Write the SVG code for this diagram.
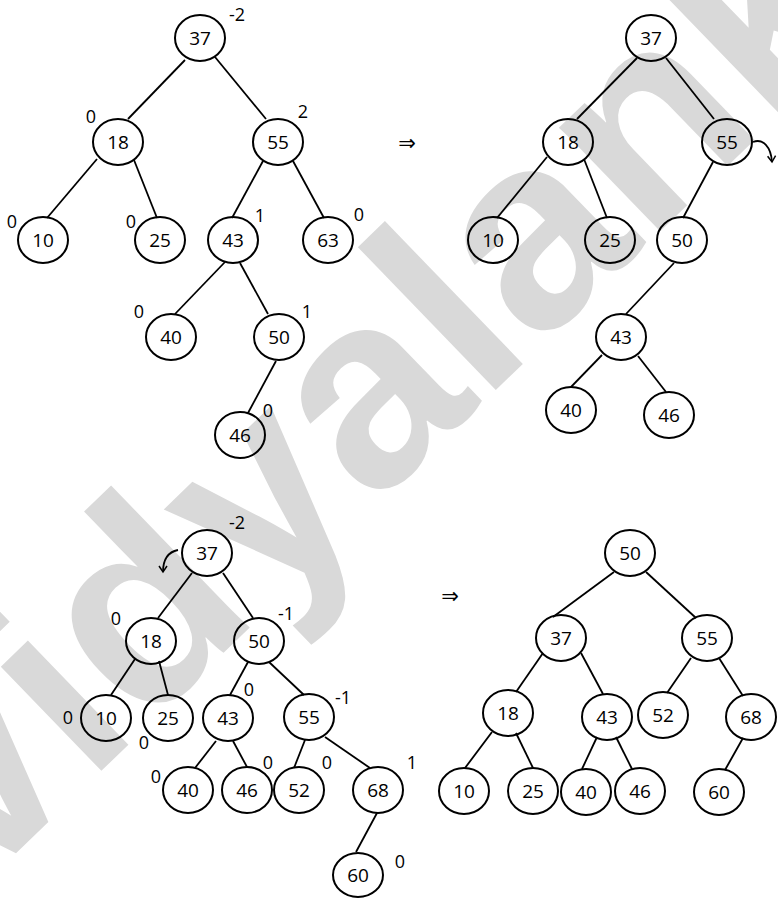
<svg xmlns="http://www.w3.org/2000/svg" width="778" height="898" viewBox="0 0 778 898">
<style>
.n ellipse{fill:none;stroke:#000;stroke-width:2}
text.v{font-family:"Open Sans","Liberation Sans",sans-serif;font-size:19px;text-anchor:middle;fill:#000}
text.b{font-family:"Open Sans","Liberation Sans",sans-serif;font-size:18px;text-anchor:middle;fill:#000}
.e line,.e path{stroke:#000;stroke-width:1.8;fill:none}
.arr{font-family:"DejaVu Sans",sans-serif;font-size:21px;text-anchor:middle;fill:#000}
.wm{font-family:"Liberation Sans",Arial,sans-serif;font-weight:bold;font-size:274px;fill:#d9d9d9}
</style>
<defs>
<marker id="ah" markerWidth="10" markerHeight="10" refX="8" refY="5" orient="auto" markerUnits="userSpaceOnUse">
<path d="M2,1 L8,5 L2,9" fill="none" stroke="#000" stroke-width="1.5"/>
</marker>
</defs>
<rect width="778" height="898" fill="#fff"/>
<text class="wm" transform="translate(-22,890) rotate(-44)">vidyalank</text>

<g id="connectors" class="e">
<!-- tree A -->
<line x1="185" y1="60" x2="128" y2="119"/>
<line x1="215" y1="57" x2="266" y2="119"/>
<line x1="97" y1="159" x2="47" y2="218"/>
<line x1="134" y1="160" x2="157" y2="218"/>
<line x1="263" y1="161" x2="232" y2="218"/>
<line x1="293" y1="161" x2="324" y2="218"/>
<line x1="225" y1="262" x2="175" y2="314"/>
<line x1="240" y1="263" x2="268" y2="314"/>
<line x1="276" y1="361" x2="248" y2="413"/>
<!-- tree B -->
<line x1="637" y1="58" x2="577" y2="119"/>
<line x1="666" y1="58" x2="714" y2="119"/>
<line x1="547" y1="157" x2="497" y2="218"/>
<line x1="584" y1="159" x2="607" y2="218"/>
<line x1="713" y1="162" x2="683" y2="218"/>
<line x1="674" y1="263" x2="626" y2="314"/>
<line x1="602" y1="355" x2="571" y2="387"/>
<line x1="638" y1="356" x2="666" y2="392"/>
<path d="M753,142 C763,138 771,147 772,162" marker-end="url(#ah)"/>
<!-- tree C -->
<line x1="192" y1="573" x2="158" y2="618"/>
<line x1="223" y1="573" x2="253" y2="618"/>
<line x1="135" y1="659" x2="111" y2="695"/>
<line x1="159" y1="661" x2="168" y2="695"/>
<line x1="248" y1="662" x2="230" y2="695"/>
<line x1="269" y1="662" x2="304" y2="695"/>
<line x1="216" y1="741" x2="195" y2="768"/>
<line x1="233" y1="741" x2="247" y2="767"/>
<line x1="305" y1="740" x2="294" y2="768"/>
<line x1="325" y1="737" x2="370" y2="768"/>
<line x1="377" y1="813" x2="356" y2="852"/>
<path d="M178,550 C168,552 163,560 163,572" marker-end="url(#ah)"/>
<!-- tree D -->
<line x1="614" y1="572" x2="553" y2="617"/>
<line x1="646" y1="572" x2="696" y2="618"/>
<line x1="543" y1="653" x2="516" y2="692"/>
<line x1="581" y1="653" x2="603" y2="694"/>
<line x1="691" y1="658" x2="667" y2="693"/>
<line x1="719" y1="658" x2="743" y2="696"/>
<line x1="492" y1="732" x2="465" y2="768"/>
<line x1="516" y1="733" x2="533" y2="768"/>
<line x1="597" y1="737" x2="582" y2="769"/>
<line x1="616" y1="737" x2="632" y2="769"/>
<line x1="743" y1="738" x2="725" y2="770"/>
</g>

<text class="arr" x="407" y="150">⇒</text>
<text class="arr" x="450" y="603">⇒</text>

<!-- Tree A -->
<g id="A37" class="n"><ellipse cx="200" cy="38" rx="25" ry="23"/><text class="v" x="200" y="45">37</text><text class="b" x="237" y="21">-2</text></g>
<g id="A18" class="n"><ellipse cx="118" cy="142" rx="25" ry="23"/><text class="v" x="118" y="149">18</text><text class="b" x="91" y="123">0</text></g>
<g id="A55" class="n"><ellipse cx="278" cy="142" rx="25" ry="23"/><text class="v" x="278" y="149">55</text><text class="b" x="303" y="118">2</text></g>
<g id="A10" class="n"><ellipse cx="43" cy="240" rx="25" ry="23"/><text class="v" x="43" y="247">10</text><text class="b" x="12" y="228">0</text></g>
<g id="A25" class="n"><ellipse cx="160" cy="240" rx="25" ry="23"/><text class="v" x="160" y="247">25</text><text class="b" x="131" y="228">0</text></g>
<g id="A43" class="n"><ellipse cx="233" cy="240" rx="25" ry="23"/><text class="v" x="233" y="247">43</text><text class="b" x="260" y="222">1</text></g>
<g id="A63" class="n"><ellipse cx="328" cy="240" rx="25" ry="23"/><text class="v" x="328" y="247">63</text><text class="b" x="359" y="221">0</text></g>
<g id="A40" class="n"><ellipse cx="171" cy="337" rx="25" ry="23"/><text class="v" x="171" y="344">40</text><text class="b" x="139" y="318">0</text></g>
<g id="A50" class="n"><ellipse cx="279" cy="337" rx="25" ry="23"/><text class="v" x="279" y="344">50</text><text class="b" x="307" y="318">1</text></g>
<g id="A46" class="n"><ellipse cx="240" cy="435" rx="25" ry="23"/><text class="v" x="240" y="442">46</text><text class="b" x="268" y="417">0</text></g>

<!-- Tree B -->
<g id="B37" class="n"><ellipse cx="651" cy="38" rx="25" ry="23"/><text class="v" x="651" y="45">37</text></g>
<g id="B18" class="n"><ellipse cx="568" cy="142" rx="25" ry="23"/><text class="v" x="568" y="149">18</text></g>
<g id="B55" class="n"><ellipse cx="727" cy="142" rx="25" ry="23"/><text class="v" x="727" y="149">55</text></g>
<g id="B10" class="n"><ellipse cx="493" cy="240" rx="25" ry="23"/><text class="v" x="493" y="247">10</text></g>
<g id="B25" class="n"><ellipse cx="610" cy="240" rx="25" ry="23"/><text class="v" x="610" y="247">25</text></g>
<g id="B50" class="n"><ellipse cx="682" cy="240" rx="25" ry="23"/><text class="v" x="682" y="247">50</text></g>
<g id="B43" class="n"><ellipse cx="621" cy="337" rx="25" ry="23"/><text class="v" x="621" y="344">43</text></g>
<g id="B40" class="n"><ellipse cx="571" cy="410" rx="25" ry="23"/><text class="v" x="571" y="417">40</text></g>
<g id="B46" class="n"><ellipse cx="669" cy="415" rx="25" ry="23"/><text class="v" x="669" y="422">46</text></g>

<!-- Tree C -->
<g id="C37" class="n"><ellipse cx="207" cy="553" rx="25" ry="23"/><text class="v" x="207" y="560">37</text><text class="b" x="237" y="529">-2</text></g>
<g id="C18" class="n"><ellipse cx="151" cy="641" rx="25" ry="23"/><text class="v" x="151" y="648">18</text><text class="b" x="116" y="625">0</text></g>
<g id="C50" class="n"><ellipse cx="259" cy="641" rx="25" ry="23"/><text class="v" x="259" y="648">50</text><text class="b" x="286" y="620">-1</text></g>
<g id="C10" class="n"><ellipse cx="106" cy="718" rx="25" ry="23"/><text class="v" x="106" y="725">10</text><text class="b" x="68" y="724">0</text></g>
<g id="C25" class="n"><ellipse cx="168" cy="718" rx="25" ry="23"/><text class="v" x="168" y="725">25</text><text class="b" x="144" y="749">0</text></g>
<g id="C43" class="n"><ellipse cx="228" cy="718" rx="25" ry="23"/><text class="v" x="228" y="725">43</text><text class="b" x="249" y="696">0</text></g>
<g id="C55" class="n"><ellipse cx="309" cy="717" rx="25" ry="23"/><text class="v" x="309" y="724">55</text><text class="b" x="343" y="704">-1</text></g>
<g id="C40" class="n"><ellipse cx="188" cy="790" rx="25" ry="23"/><text class="v" x="188" y="797">40</text><text class="b" x="156" y="783">0</text></g>
<g id="C46" class="n"><ellipse cx="247" cy="790" rx="25" ry="23"/><text class="v" x="247" y="797">46</text><text class="b" x="268" y="769">0</text></g>
<g id="C52" class="n"><ellipse cx="299" cy="790" rx="25" ry="23"/><text class="v" x="299" y="797">52</text><text class="b" x="327" y="769">0</text></g>
<g id="C68" class="n"><ellipse cx="378" cy="790" rx="25" ry="23"/><text class="v" x="378" y="797">68</text><text class="b" x="412" y="769">1</text></g>
<g id="C60" class="n"><ellipse cx="358" cy="875" rx="25" ry="22"/><text class="v" x="358" y="882">60</text><text class="b" x="400" y="868">0</text></g>

<!-- Tree D -->
<g id="D50" class="n"><ellipse cx="630" cy="553" rx="25" ry="23"/><text class="v" x="630" y="560">50</text></g>
<g id="D37" class="n"><ellipse cx="561" cy="638" rx="25" ry="23"/><text class="v" x="561" y="645">37</text></g>
<g id="D55" class="n"><ellipse cx="707" cy="638" rx="25" ry="23"/><text class="v" x="707" y="645">55</text></g>
<g id="D18" class="n"><ellipse cx="508" cy="713" rx="25" ry="23"/><text class="v" x="508" y="720">18</text></g>
<g id="D43" class="n"><ellipse cx="607" cy="717" rx="25" ry="23"/><text class="v" x="607" y="724">43</text></g>
<g id="D52" class="n"><ellipse cx="663" cy="715" rx="25" ry="23"/><text class="v" x="663" y="722">52</text></g>
<g id="D68" class="n"><ellipse cx="751" cy="717" rx="25" ry="23"/><text class="v" x="751" y="724">68</text></g>
<g id="D10" class="n"><ellipse cx="464" cy="791" rx="25" ry="23"/><text class="v" x="464" y="798">10</text></g>
<g id="D25" class="n"><ellipse cx="533" cy="791" rx="25" ry="23"/><text class="v" x="533" y="798">25</text></g>
<g id="D40" class="n"><ellipse cx="586" cy="792" rx="25" ry="23"/><text class="v" x="586" y="799">40</text></g>
<g id="D46" class="n"><ellipse cx="640" cy="791" rx="25" ry="23"/><text class="v" x="640" y="798">46</text></g>
<g id="D60" class="n"><ellipse cx="719" cy="792" rx="25" ry="23"/><text class="v" x="719" y="799">60</text></g>
</svg>
